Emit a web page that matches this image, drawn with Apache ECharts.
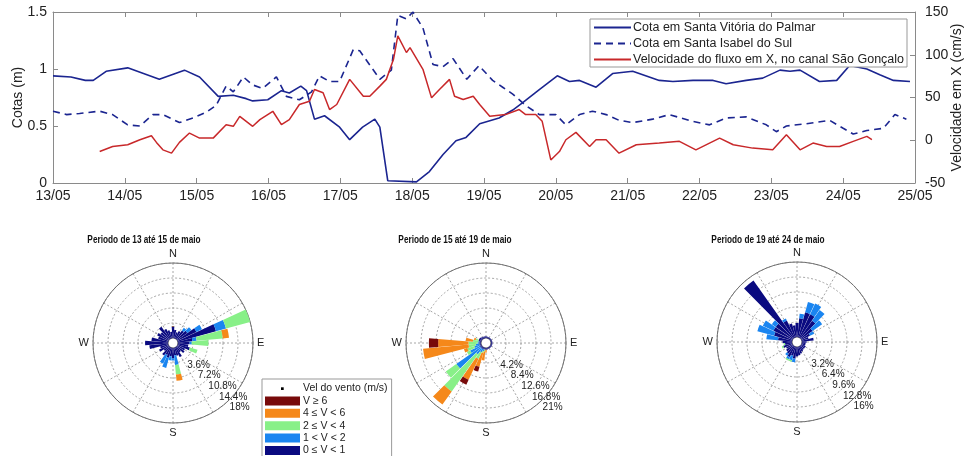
<!DOCTYPE html>
<html><head><meta charset="utf-8">
<script src="https://cdn.jsdelivr.net/npm/echarts@6/dist/echarts.min.js"></script>
<style>html,body{margin:0;padding:0;background:#fff}#c{width:966px;height:456px}</style>
</head><body><div id="c"></div>
<script>
// ---------- Top chart data ----------
const xTickLabels = ['13/05','14/05','15/05','16/05','17/05','18/05','19/05','20/05','21/05','22/05','23/05','24/05','25/05'];
const svDays = [13.00,13.25,13.45,13.56,13.74,14.04,14.48,14.83,15.04,15.30,15.51,15.69,15.78,15.99,16.18,16.29,16.45,16.53,16.64,16.78,16.99,17.13,17.31,17.48,17.55,17.66,18.06,18.24,18.43,18.61,18.75,18.94,19.21,19.40,19.53,19.77,20.02,20.19,20.33,20.56,20.79,21.07,21.44,21.63,21.91,22.19,22.37,22.65,22.88,23.12,23.26,23.40,23.67,23.91,24.09,24.33,24.51,24.70,24.93];
const svCota = [0.94,0.93,0.90,0.90,0.98,1.01,0.91,0.99,0.93,0.76,0.77,0.74,0.72,0.73,0.81,0.79,0.85,0.81,0.56,0.59,0.49,0.38,0.49,0.56,0.49,0.02,0.01,0.10,0.25,0.37,0.40,0.52,0.57,0.64,0.70,0.82,0.94,0.89,0.90,0.84,0.96,0.98,0.90,0.89,0.90,0.90,0.87,0.90,0.92,0.99,0.98,0.99,0.89,0.90,1.03,1.00,0.95,0.90,0.89];
const siDays = [13.00,13.19,13.37,13.65,13.83,14.04,14.21,14.39,14.53,14.76,14.95,15.13,15.27,15.41,15.51,15.65,15.78,15.92,16.11,16.25,16.43,16.60,16.71,16.85,16.99,17.18,17.27,17.55,17.71,17.80,17.92,18.01,18.15,18.29,18.43,18.57,18.76,18.93,19.12,19.26,19.40,19.58,19.77,20.00,20.14,20.33,20.51,20.70,20.88,21.07,21.35,21.58,21.91,22.14,22.37,22.65,22.93,23.07,23.21,23.49,23.81,24.00,24.14,24.33,24.56,24.72,24.88];
const siCota = [0.63,0.60,0.61,0.63,0.60,0.51,0.50,0.60,0.60,0.53,0.57,0.62,0.68,0.85,0.80,0.93,0.86,0.83,0.93,0.76,0.73,0.80,0.94,0.89,0.89,1.17,1.16,0.91,0.99,1.47,1.44,1.50,1.36,1.04,1.02,1.09,0.91,1.03,0.90,0.84,0.78,0.68,0.60,0.60,0.51,0.60,0.63,0.60,0.55,0.53,0.56,0.60,0.54,0.51,0.57,0.58,0.51,0.45,0.50,0.52,0.55,0.48,0.43,0.46,0.48,0.60,0.56];
const rvDays = [13.65,13.83,14.04,14.21,14.37,14.44,14.53,14.65,14.76,14.90,15.04,15.23,15.41,15.51,15.60,15.78,15.88,16.06,16.18,16.29,16.43,16.57,16.64,16.76,16.85,16.95,17.13,17.32,17.41,17.55,17.64,17.74,17.80,17.92,17.97,18.15,18.27,18.38,18.52,18.59,18.71,18.85,18.94,19.08,19.30,19.49,19.58,19.72,19.81,19.93,20.05,20.14,20.28,20.47,20.56,20.70,20.88,21.12,21.44,21.72,21.95,22.28,22.47,22.74,23.02,23.21,23.40,23.58,23.77,23.95,24.14,24.33,24.40];
const rvVel = [-13.2,-7.3,-5.3,0.6,5.3,-2.5,-11.2,-15.1,-2.5,8.4,2.5,2.5,18.2,16.3,28.0,16.3,24.1,33.9,18.2,24.1,41.8,45.7,59.4,55.5,35.9,41.8,71.2,51.5,51.5,63.3,71.2,94.7,122.1,102.6,108.4,83.0,49.6,59.4,71.2,51.5,47.6,51.5,41.8,28.0,30.0,35.9,30.0,30.0,22.1,-23.0,-13.2,0.6,9.2,-7.3,0.6,0.6,-15.1,-5.3,-3.3,-1.3,-11.2,2.5,-5.3,-9.2,-11.2,6.5,-11.2,-3.3,-7.3,-7.3,-1.3,4.5,0.6];

// ---------- Wind rose data (percent per 10° direction, starting at N, clockwise) ----------
const roseDirs = ['0','10','20','30','40','50','60','70','80','90','100','110','120','130','140','150','160','170','180','190','200','210','220','230','240','250','260','270','280','290','300','310','320','330','340','350'];
const speedClasses = ['0 ≤ V < 1','1 < V < 2','2 ≤ V < 4','4 ≤ V < 6','V ≥ 6'];
const roseTitles = ['Periodo de 13 até 15 de maio','Periodo de 15 até 19 de maio','Periodo de 19 até 24 de maio'];
const roseMax = [18, 21, 16];
// Rose 1: 13–15 May
const r1_v0 = [2.8,2.0,1.5,2.0,2.5,3.0,5.0,9.5,3.5,2.8,2.5,3.0,2.0,2.2,1.5,2.5,2.0,1.8,2.5,2.0,2.5,2.0,2.5,1.5,2.5,2.0,4.5,5.5,4.0,2.5,3.0,2.5,3.6,2.5,2.0,1.5];
const r1_v1 = [0,0,0,0,0.8,1.2,1.5,2.5,1.0,0.5,0,0,0,0,0,0,0,2.3,0.5,1.0,2.5,2.3,0,0,0,0,0,0,0,0,0,0,0,0,0,0];
const r1_v2 = [0,0,0,0,0,0,0,6.0,6.3,4.0,0,1.9,0,0,0,0,0,2.3,0,0,0,0,0,0,0,0,0,0,0,0,0,0,0,0,0,0];
const r1_v4 = [0,0,0,0,0,0,0,0,1.5,0,0,0,0,0,0,0,0,1.5,0,0,0,0,0,0,0,0,0,0,0,0,0,0,0,0,0,0];
const r1_v6 = [0,0,0,0,0,0,0,0,0,0,0,0,0,0,0,0,0,0,0,0,0,0,0,0,0,0,0,0,0,0,0,0,0,0,0,0];
// Rose 2: 15–19 May
const r2_v0 = [0.5,0.4,0.4,0.4,0.4,0.4,0.4,0.4,0.4,0.4,0.4,0.4,0.4,0.4,0.4,0.4,0.4,0.5,0.5,0.5,0.5,0.5,0.5,0.5,0.5,0.5,0.5,0.5,0.5,0.8,0.8,0.8,0.6,0.5,0.5,0.5];
const r2_v1 = [0,0,0,0,0,0,0,0,0,0,0,0,0,0,0,0,0,0,0,0,0.5,1.0,2.0,8.3,3.0,1.5,1.0,0.5,0.3,0,0,0,0,0,0,0];
const r2_v2 = [0,0,0,0,0,0,0,0,0,0,0,0,0,0,0,0,0,0,0,0.5,0.5,2.0,12.7,3.6,1.0,2.0,2.0,2.5,1.5,0.8,0,0,0,0,0,0];
const r2_v4 = [0,0,0,0,0,0,0,0,0,0,0,0,0,0,0,0,0,0,0.8,2.5,4.0,6.5,4.5,0,0,1.0,12.8,8.5,2.0,0.5,0,0,0,0,0,0];
const r2_v6 = [0,0,0,0,0,0,0,0,0,0,0,0,0,0,0,0,0,0,0,0,1.4,1.5,0,0,0,0,0,2.6,0,0,0,0,0,0,0,0];
// Rose 3: 19–24 May
const r3_v0 = [3.0,4.0,5.5,5.5,4.5,3.0,2.0,1.5,2.5,1.0,0.8,0.8,1.0,1.0,1.0,1.2,1.5,1.8,2.0,2.5,2.0,2.5,2.0,1.8,1.5,2.0,1.5,2.0,3.0,4.0,4.5,4.5,15.0,4.0,3.0,2.5];
const r3_v1 = [0,1.0,2.3,2.5,2.8,2.5,1.0,0,0,0,0,0,0,0,0,0,0,0,0,0.8,1.0,0.5,0.5,0,0,0,0,0,2.5,3.7,2.5,1.0,0,0.5,0,0];
const r3_v2 = [0,0,0,0,0,0,0,0,0,0,0,0,0,0,0,0,0,0,0,0,0.3,0.3,0,0,0,0.3,0.3,0,0,0,0,0,0,0,0,0];
const r3_v4 = [0,0,0,0,0,0,0,0,0,0,0,0,0,0,0,0,0,0,0,0,0,0,0,0,0,0,0,0,0,0,0,0,0,0,0,0];
const r3_v6 = [0,0,0,0,0,0,0,0,0,0,0,0,0,0,0,0,0,0,0,0,0,0,0,0,0,0,0,0,0,0,0,0,0,0,0,0];

// ---------- Build ----------
const FONT = "'Liberation Sans', Arial, Helvetica, sans-serif";
const AX = '#8a8a8a';
const zip = (a, b) => a.map((v, i) => [v, b[i]]);
const classColors = ['#0a0a80', '#1a85f0', '#88f088', '#f5881a', '#780a0a'];
const roseData = [[r1_v0,r1_v1,r1_v2,r1_v4,r1_v6],[r2_v0,r2_v1,r2_v2,r2_v4,r2_v6],[r3_v0,r3_v1,r3_v2,r3_v4,r3_v6]];
const roseCenters = [[173,343],[486,343],[797,342]];
const roseTitleX = [144,455,768];
const R = 80, R0 = 5;
const cardinal = {0:'N',90:'E',180:'S',270:'W'};

const polar = [], angleAxis = [], radiusAxis = [], series = [], graphic = [];
roseData.forEach((classes, k) => {
  const b = 3 * k, mx = roseMax[k];
  for (let j = 0; j < 3; j++) polar.push({center: roseCenters[k], radius: [R0, R]});
  // grid polar
  angleAxis.push({polarIndex: b, type: 'value', min: 0, max: 360, interval: 30, startAngle: 90, clockwise: true,
    axisLine: {show: true, lineStyle: {color: '#6f6f6f', width: 1}}, axisTick: {show: false},
    axisLabel: {formatter: v => cardinal[v] || '', margin: 4, fontSize: 11, color: '#222', fontFamily: FONT},
    splitLine: {show: true, lineStyle: {color: '#8f8f8f', type: [2, 2], width: 0.8}}});
  radiusAxis.push({polarIndex: b, min: 0, max: mx, interval: mx / 5, axisLine: {show: false}, axisTick: {show: false},
    axisLabel: {show: false}, splitLine: {show: true, lineStyle: {color: '#8f8f8f', type: [2, 2], width: 0.8}}});
  // bars polar
  angleAxis.push({polarIndex: b + 1, type: 'category', data: roseDirs, startAngle: 95, clockwise: true,
    axisLine: {show: false}, axisTick: {show: false}, axisLabel: {show: false}, splitLine: {show: false}});
  radiusAxis.push({polarIndex: b + 1, min: 0, max: mx, axisLine: {show: false}, axisTick: {show: false},
    axisLabel: {show: false}, splitLine: {show: false}});
  // ring label polar
  angleAxis.push({polarIndex: b + 2, type: 'value', min: 0, max: 360, startAngle: -45, show: false});
  radiusAxis.push({polarIndex: b + 2, min: 0, max: mx, interval: mx / 5, axisLine: {show: false}, axisTick: {show: false},
    splitLine: {show: false},
    axisLabel: {show: true, showMinLabel: false, margin: 0, align: 'left', verticalAlign: 'top', fontSize: 10, color: '#222', fontFamily: FONT,
      padding: [3, 0, 0, 0], formatter: v => (+(+v).toFixed(1)) + '%'}});
  classes.forEach((arr, c) => {
    series.push({type: 'bar', coordinateSystem: 'polar', polarIndex: b + 1, stack: 'rose' + k, name: speedClasses[c],
      data: arr, barCategoryGap: '6%', barGap: '-100%', itemStyle: {color: classColors[c]}, z: 3, silent: true});
  });
  graphic.push({type: 'text', x: roseTitleX[k], y: 240, scaleX: 0.75, silent: true,
    style: {text: roseTitles[k], fill: '#111', font: "bold 11px 'Liberation Sans', Arial, sans-serif", align: 'center', verticalAlign: 'middle'}});
});

series.push(
  {type: 'line', name: 'Cota em Santa Vitória do Palmar', xAxisIndex: 0, yAxisIndex: 0, data: zip(svDays, svCota),
   symbol: 'none', lineStyle: {color: '#1b2590', width: 1.6}, itemStyle: {color: '#1b2590'}, z: 3},
  {type: 'line', name: 'Cota em Santa Isabel do Sul', xAxisIndex: 0, yAxisIndex: 0, data: zip(siDays, siCota),
   symbol: 'none', lineStyle: {color: '#1b2590', width: 1.6, type: [7, 5]}, itemStyle: {color: '#1b2590'}, z: 3},
  {type: 'line', name: 'Velocidade do fluxo em X, no canal São Gonçalo', xAxisIndex: 0, yAxisIndex: 1, data: zip(rvDays, rvVel),
   symbol: 'none', lineStyle: {color: '#c8282a', width: 1.5}, itemStyle: {color: '#c8282a'}, z: 4},
  // header entry of the wind legend (no marks)
  {type: 'line', name: 'Vel do vento (m/s)', xAxisIndex: 0, yAxisIndex: 0, data: [], symbol: 'none', itemStyle: {color: '#000'}}
);

const tickLbl = {color: '#222', fontSize: 14, fontFamily: FONT};
const option = {
  animation: false,
  backgroundColor: '#fff',
  textStyle: {fontFamily: FONT},
  graphic,
  grid: {left: 53, top: 12, width: 862, height: 171, show: false, containLabel: false, outerBoundsMode: 'none'},
  xAxis: [
    {type: 'value', min: 13, max: 25, interval: 1, position: 'bottom',
     axisLine: {onZero: false, lineStyle: {color: AX}}, axisTick: {inside: true, length: 5, lineStyle: {color: AX}},
     axisLabel: {...tickLbl, margin: 6, formatter: v => xTickLabels[Math.round(v - 13)]}, splitLine: {show: false}},
    {type: 'value', min: 13, max: 25, interval: 1, position: 'top',
     axisLine: {onZero: false, lineStyle: {color: AX}}, axisTick: {inside: true, length: 5, lineStyle: {color: AX}},
     axisLabel: {show: false}, splitLine: {show: false}}
  ],
  yAxis: [
    {type: 'value', min: 0, max: 1.5, interval: 0.5, position: 'left', name: 'Cotas (m)', nameLocation: 'middle', nameGap: 28, nameMoveOverlap: false,
     nameTextStyle: {fontSize: 14, color: '#222', fontFamily: FONT},
     axisLine: {show: true, onZero: false, lineStyle: {color: AX}}, axisTick: {show: true, inside: true, length: 5, lineStyle: {color: AX}},
     axisLabel: {...tickLbl, margin: 6}, splitLine: {show: false}},
    {type: 'value', min: -50, max: 150, interval: 50, position: 'right', name: 'Velocidade em X (cm/s)', nameLocation: 'middle', nameGap: 35, nameRotate: 90, nameMoveOverlap: false,
     nameTextStyle: {fontSize: 14, color: '#222', fontFamily: FONT},
     axisLine: {show: true, onZero: false, lineStyle: {color: AX}}, axisTick: {show: true, inside: true, length: 5, lineStyle: {color: AX}},
     axisLabel: {...tickLbl, margin: 10}, splitLine: {show: false}}
  ],
  legend: [
    {data: ['Cota em Santa Vitória do Palmar', 'Cota em Santa Isabel do Sul', 'Velocidade do fluxo em X, no canal São Gonçalo'],
     orient: 'vertical', left: 590, top: 19, itemWidth: 37, itemHeight: 12, itemGap: 3, padding: [2, 3, 1, 3],
     borderColor: '#999', borderWidth: 1, backgroundColor: '#fff', selectedMode: false, itemStyle: {opacity: 0},
     textStyle: {fontSize: 12.5, color: '#222', fontFamily: FONT, padding: [0, 0, 0, -3]}},
    {data: [{name: 'Vel do vento (m/s)', icon: 'path://M0,0M100,30M45,11h9v9h-9z'},
            {name: 'V ≥ 6', icon: 'rect'}, {name: '4 ≤ V < 6', icon: 'rect'}, {name: '2 ≤ V < 4', icon: 'rect'},
            {name: '1 < V < 2', icon: 'rect'}, {name: '0 ≤ V < 1', icon: 'rect'}],
     orient: 'vertical', left: 262, top: 379, height: 120, itemWidth: 35, itemHeight: 9, itemGap: 1.4, padding: [4, 4, 6, 3],
     borderColor: '#999', borderWidth: 1, backgroundColor: '#fff', selectedMode: false,
     textStyle: {fontSize: 10.5, color: '#222', fontFamily: FONT, padding: [0, 0, 0, -2]}}
  ],
  polar, angleAxis, radiusAxis,
  series
};
const chart = echarts.init(document.getElementById('c'), null, {renderer: 'canvas'});
chart.setOption(option);
</script></body></html>
